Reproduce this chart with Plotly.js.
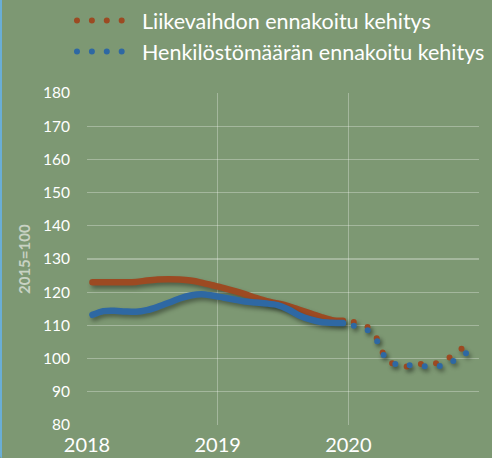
<!DOCTYPE html>
<html>
<head>
<meta charset="utf-8">
<script src="https://cdn.plot.ly/plotly-3.0.1.min.js"></script>
<style>
  html, body { margin: 0; padding: 0; background: #7d9873; }
  #chart { width: 492px; height: 458px; position: relative; }
  #edge { position: absolute; left: 0; top: 0; width: 2px; height: 458px; background: #6aaed6; z-index: 10; border-bottom-left-radius: 6px; }
  .scatterlayer .trace path.js-line { filter: drop-shadow(2px 3px 2px rgba(0,0,0,0.38)); }
  path.js-line { stroke-linecap: round; stroke-linejoin: round; }
</style>
</head>
<body>
<div id="chart"></div>
<div id="edge"></div>
<script>
// Months (categories) Jan 2018 .. Dec 2020
const months = [
  '2018-01','2018-02','2018-03','2018-04','2018-05','2018-06','2018-07','2018-08','2018-09','2018-10','2018-11','2018-12',
  '2019-01','2019-02','2019-03','2019-04','2019-05','2019-06','2019-07','2019-08','2019-09','2019-10','2019-11','2019-12',
  '2020-01','2020-02','2020-03','2020-04','2020-05','2020-06','2020-07','2020-08','2020-09','2020-10','2020-11','2020-12'
];
const actualMonths = months.slice(0, 24);
const forecastMonths = months.slice(24);

// Liikevaihto (turnover), 2015=100
const turnoverActual = [
  123.0, 123.0, 123.0, 123.0, 123.1, 123.5, 123.8, 123.9, 123.8, 123.5, 122.9, 122.1,
  121.3, 120.4, 119.4, 118.3, 117.3, 116.6, 115.8, 114.7, 113.6, 112.5, 111.6, 111.4
];
const turnoverForecast = [111.0, 110.2, 106.7, 99.8, 97.9, 97.6, 98.3, 98.6, 98.7, 100.8, 103.2, 105.0];

// Henkilöstömäärä (personnel), 2015=100
const staffActual = [
  113.2, 114.3, 114.4, 114.2, 114.1, 114.6, 115.6, 116.8, 118.1, 119.0, 119.4, 119.0,
  118.4, 117.8, 117.2, 116.9, 116.6, 116.1, 114.8, 113.0, 111.8, 111.0, 110.8, 110.7
];
const staffForecast = [109.9, 109.2, 106.0, 99.8, 98.2, 98.0, 97.8, 97.6, 97.8, 99.0, 101.0, 103.0];

const seriesNames = ['Liikevaihdon ennakoitu kehitys', 'Henkilöstömäärän ennakoitu kehitys'];
const yearLabels = ['2018', '2019', '2020', ''];
const yTitle = '2015=100';

const orange = '#9c4a22';
const blue = '#2e68a3';
const dotDash = '0px,14.9px';

const traces = [
  { x: actualMonths, y: turnoverActual, type: 'scatter', mode: 'lines', showlegend: false,
    line: { color: orange, width: 6.5, shape: 'spline', smoothing: 0.8 }, hoverinfo: 'skip' },
  { x: forecastMonths, y: turnoverForecast, type: 'scatter', mode: 'lines', name: seriesNames[0],
    line: { color: orange, width: 6, shape: 'spline', smoothing: 0.8, dash: dotDash }, hoverinfo: 'skip' },
  { x: actualMonths, y: staffActual, type: 'scatter', mode: 'lines', showlegend: false,
    line: { color: blue, width: 6.5, shape: 'spline', smoothing: 0.8 }, hoverinfo: 'skip' },
  { x: forecastMonths, y: staffForecast, type: 'scatter', mode: 'lines', name: seriesNames[1],
    line: { color: blue, width: 6, shape: 'spline', smoothing: 0.8, dash: dotDash }, hoverinfo: 'skip' }
];

const gridColor = 'rgba(255,255,255,0.3)';
const font = 'Lato, "Open Sans", sans-serif';

const layout = {
  width: 492, height: 458,
  paper_bgcolor: '#7d9873', plot_bgcolor: '#7d9873',
  margin: { l: 87, r: 13, t: 93, b: 33, autoexpand: false },
  font: { family: font, color: '#ffffff' },
  showlegend: true,
  legend: {
    x: 0.1463, xref: 'container', xanchor: 'left',
    y: 1.005, yref: 'container', yanchor: 'top',
    itemwidth: 60,
    bgcolor: 'rgba(0,0,0,0)', font: { size: 21.5, color: '#ffffff', family: font },
    traceorder: 'normal'
  },
  xaxis: {
    type: 'category', categoryorder: 'array', categoryarray: months,
    range: [-0.5, 35.5],
    tickmode: 'array', tickvals: [-0.5, 11.5, 23.5, 35.5], ticktext: yearLabels,
    ticklabelshift: 5.5, ticklabelstandoff: 6,
    showgrid: true, gridcolor: gridColor, gridwidth: 1.2,
    zeroline: false, showline: false, ticks: '',
    tickfont: { size: 20, color: '#ffffff', family: font },
    fixedrange: true
  },
  yaxis: {
    range: [80, 180], tickvals: [80, 90, 100, 110, 120, 130, 140, 150, 160, 170, 180],
    showgrid: true, gridcolor: gridColor, gridwidth: 1.2,
    zeroline: false, showline: false, ticks: '',
    ticklabelstandoff: 16,
    tickfont: { size: 15.5, color: '#ffffff', family: font },
    fixedrange: true
  },
  annotations: [{
    text: '<b>' + yTitle + '</b>', xref: 'paper', yref: 'paper',
    x: -0.1607, y: 0.5, xanchor: 'center', yanchor: 'middle', textangle: -90,
    showarrow: false, font: { size: 15, color: '#c8d2c3', family: font }
  }]
};

Plotly.newPlot('chart', traces, layout, { displayModeBar: false, staticPlot: true }).then(function (gd) {
  // shorten the legend line sample so four dots sit before the text, as in the original
  gd.querySelectorAll('.legend path.js-line').forEach(function (p) {
    p.setAttribute('d', 'M5,0h46');
  });
});
</script>
</body>
</html>
